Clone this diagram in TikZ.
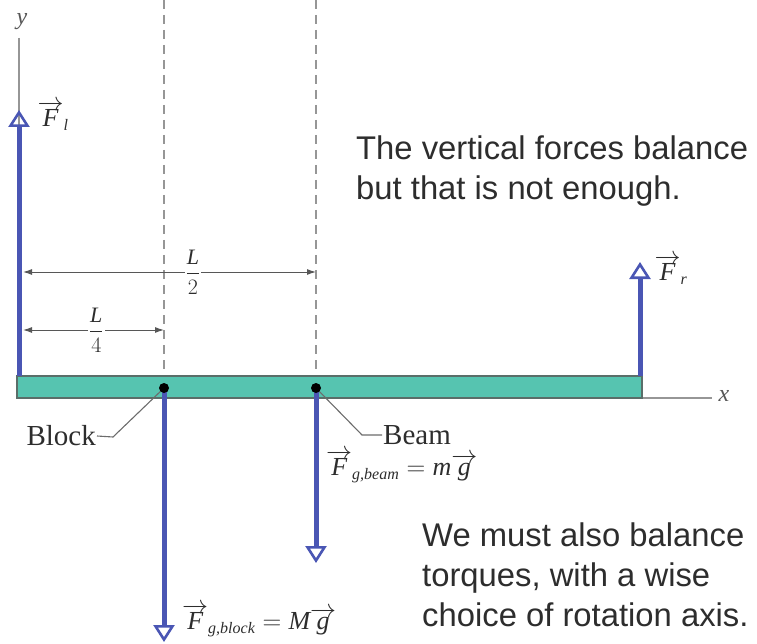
\RequirePackage{fix-cm}
\documentclass[tikz,border=0pt]{standalone}
\usepackage{fontspec}
\usetikzlibrary{arrows.meta}
\newfontfamily\txtsans{Liberation Sans}
\newfontfamily\txtserif{Liberation Serif}
\newcommand{\itx}[1]{\mbox{\txtserif\itshape #1}}
\newcommand{\subx}[1]{\mbox{\txtserif\itshape\fontsize{16}{18}\selectfont #1}}
\newcommand{\vecof}[1]{\overrightarrow{\itx{#1}}}
\definecolor{forceblue}{RGB}{74,86,180}
\definecolor{beamteal}{RGB}{86,196,176}
\definecolor{beamedge}{RGB}{90,110,105}
\definecolor{textgray}{RGB}{45,45,45}
\definecolor{axisgray}{RGB}{150,150,150}
\tikzset{
  force/.style={draw=forceblue, line width=5pt,
    -{Triangle[open, length=17pt, width=21pt, line width=2.6pt]}},
  axisline/.style={draw=axisgray, line width=1.6pt},
  dashline/.style={draw=axisgray, line width=1.2pt, dash pattern=on 9pt off 6pt},
  dimline/.style={draw=textgray!80, line width=1pt, {Latex[length=9pt,width=6pt]}-{Latex[length=9pt,width=6pt]}},
  leader/.style={draw=textgray!70, line width=1.1pt},
  dotnode/.style={circle, fill=black, inner sep=0pt, minimum size=10pt},
  mathlbl/.style={text=textgray, inner sep=1pt, font=\fontsize{26}{30}\selectfont},
  serlbl/.style={text=textgray, inner sep=1pt, font=\txtserif\fontsize{29}{34}\selectfont},
  bigtext/.style={text=textgray, align=left, inner sep=0pt, anchor=north west,
    font=\txtsans\fontsize{32.8}{40}\selectfont},
  fracl/.style={fill=white, text=textgray, inner sep=1pt, font=\txtserif\fontsize{22}{24}\selectfont}
}
\begin{document}
\begin{tikzpicture}[x=1pt,y=-1pt]
\useasboundingbox (0,0) rectangle (757,644);
% dashed guide lines
\coordinate (dA0) at (164,0);
\coordinate (dA1) at (164,376);
\coordinate (dB0) at (316,0);
\coordinate (dB1) at (316,376);
\draw[dashline] (dA0) -- (dA1);
\draw[dashline] (dB0) -- (dB1);
% axes
\node[text=textgray!80, font=\txtserif\itshape\fontsize{24}{26}\selectfont] (ylab) at (22,22) {y};
\coordinate (yax0) at (19,38);
\coordinate (yax1) at (19,376);
\draw[axisline] (yax0) -- (yax1);
\coordinate (xax0) at (640,398);
\coordinate (xax1) at (712,398);
\draw[axisline] (xax0) -- (xax1);
\node[text=textgray!80, font=\txtserif\itshape\fontsize{24}{26}\selectfont] (xlab) at (724,396) {x};
% beam
\node[draw=beamedge, line width=1.2pt, fill=beamteal, minimum width=625pt, minimum height=22pt, inner sep=0pt] (beam) at (329.5,387) {};
% points
\coordinate (pA) at (164,388);
\coordinate (pB) at (316,388);
% forces
\coordinate (fl0) at (19,376);
\coordinate (fl1) at (19,110);
\draw[force] (fl0) -- (fl1);
\coordinate (fr0) at (640,376);
\coordinate (fr1) at (640,262);
\draw[force] (fr0) -- (fr1);
\coordinate (fbk) at (164,642);
\draw[force] (pA) -- (fbk);
\coordinate (fbm) at (316,563);
\draw[force] (pB) -- (fbm);
\node[dotnode] (dotA) at (pA) {};
\node[dotnode] (dotB) at (pB) {};
% force labels
\node[mathlbl] (Fl) at (53,116) {$\vecof{F}_{\subx{l}}$};
\node[mathlbl] (Fr) at (671,270) {$\vecof{F}_{\subx{r}}$};
\node[mathlbl, anchor=west] (Fbeam) at (325,466) {$\vecof{F}_{\subx{g,beam}}=\itx{m}\vecof{g}$};
\node[mathlbl, anchor=west] (Fblock) at (181,620) {$\vecof{F}_{\subx{g,block}}=\itx{M}\vecof{g}$};
% dimensions
\coordinate (d2a) at (23,272);
\coordinate (d2b) at (316,272);
\draw[dimline] (d2a) -- node[fracl, pos=0.58] (half) {$\displaystyle\frac{\itx{L}}{2}$} (d2b);
\coordinate (d4a) at (23,330);
\coordinate (d4b) at (164,330);
\draw[dimline] (d4a) -- node[fracl, pos=0.52] (quarter) {$\displaystyle\frac{\itx{L}}{4}$} (d4b);
% leaders
\node[serlbl, anchor=east] (blocklbl) at (97,436) {Block};
\coordinate (bk1) at (113,437);
\draw[leader] (blocklbl.east) -- (bk1) -- (dotA);
\node[serlbl, anchor=west] (beamlbl) at (382,435) {Beam};
\coordinate (bm1) at (362,435);
\draw[leader] (dotB) -- (bm1) -- (beamlbl.west);
% texts
\node[bigtext] (t1) at (356,136) {The vertical forces balance\\but that is not enough.};
\node[bigtext] (t2) at (422,523) {We must also balance\\torques, with a wise\\choice of rotation axis.};
\end{tikzpicture}
\end{document}
